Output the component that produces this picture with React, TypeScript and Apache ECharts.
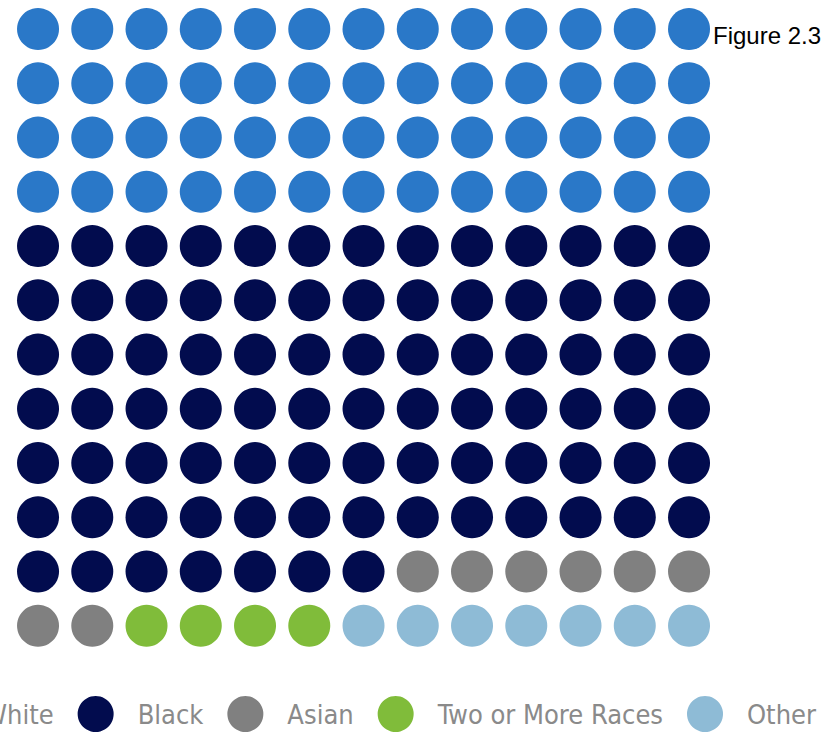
import React, { useEffect, useRef } from "react";
import * as echarts from "echarts";

const categories = ["White", "Black", "Asian", "Two or More Races", "Other"];
const counts = [52, 85, 8, 4, 7];
const colors = ["#2a78c8", "#020c4e", "#808080", "#80bc3a", "#8ebbd6"];
const columns = 13;
const rows = 12;
const figureLabel = "Figure 2.3";

function buildSeries() {
  let idx = 0;
  return categories.map((name, i) => {
    const data: number[][] = [];
    for (let k = 0; k < counts[i]; k++) {
      data.push([idx % columns, Math.floor(idx / columns)]);
      idx++;
    }
    return {
      name,
      type: "scatter",
      symbol: "circle",
      symbolSize: 42,
      itemStyle: { color: colors[i], opacity: 1 },
      emphasis: { disabled: true },
      data,
    };
  });
}

export default function App() {
  const ref = useRef<HTMLDivElement>(null);
  useEffect(() => {
    if (!ref.current) return;
    const chart = echarts.init(ref.current, undefined, { renderer: "svg" });
    chart.setOption({
      animation: false,
      title: {
        text: figureLabel,
        left: 713,
        top: 23,
        padding: 0,
        textStyle: {
          fontFamily: "Liberation Sans",
          fontSize: 24,
          fontWeight: "normal",
          color: "#000000",
        },
      },
      grid: { left: 10.9, top: 1.9, width: 705.25, height: 651, containLabel: false },
      xAxis: {
        type: "value",
        min: -0.5,
        max: columns - 0.5,
        show: false,
      },
      yAxis: {
        type: "value",
        min: -0.5,
        max: rows - 0.5,
        inverse: true,
        show: false,
      },
      legend: {
        data: categories,
        left: -77,
        top: 696,
        width: 1000,
        padding: 0,
        icon: "circle",
        itemWidth: 36,
        itemHeight: 36,
        itemGap: 24,
        textStyle: {
          fontFamily: "'DejaVu Sans Condensed', 'Liberation Sans Narrow', 'Liberation Sans', sans-serif",
          fontSize: 27,
          color: "#8a8a8a",
          padding: [0, 0, 0, 19],
        },
      },
      series: buildSeries(),
    });
    return () => chart.dispose();
  }, []);
  return (
    <div
      ref={ref}
      style={{ position: "absolute", left: 0, top: 0, width: 839, height: 734 }}
    />
  );
}
